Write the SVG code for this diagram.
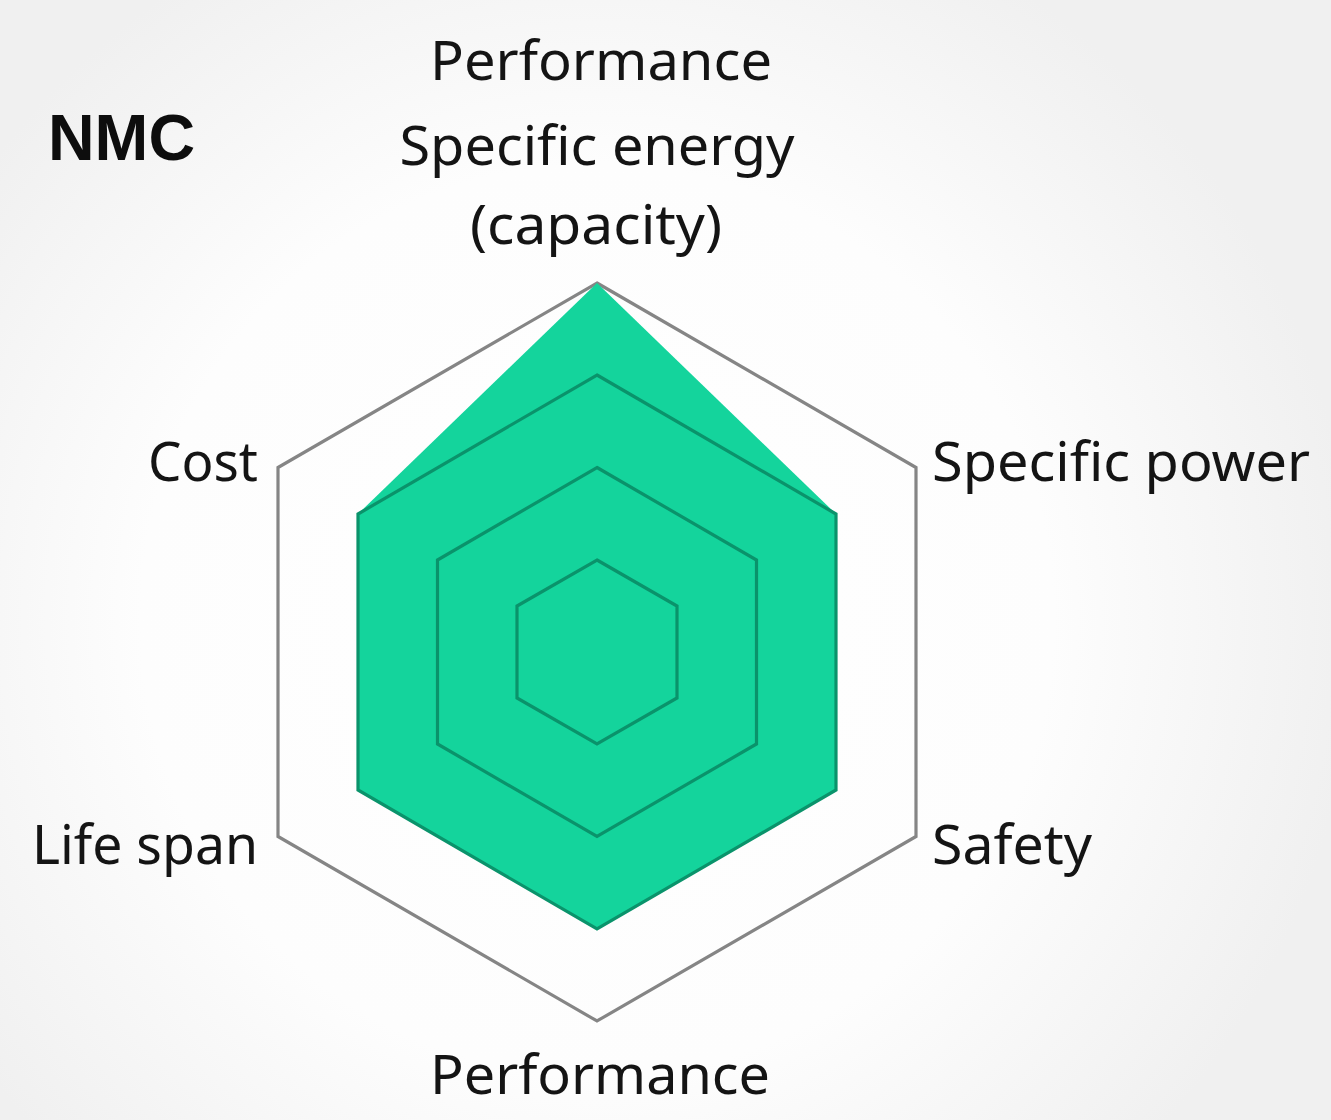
<svg xmlns="http://www.w3.org/2000/svg" width="1331" height="1120" viewBox="0 0 1331 1120">
<defs>
<radialGradient id="bg" cx="597" cy="620" r="760" gradientUnits="userSpaceOnUse">
<stop offset="0" stop-color="#ffffff"/>
<stop offset="0.6" stop-color="#fdfdfd"/>
<stop offset="1" stop-color="#f0f0f0"/>
</radialGradient>
<style>
.lbl{font-family:"Noto Sans","Open Sans",sans-serif;font-size:54px;fill:#141414}
.ttl{font-family:"Liberation Sans",Arial,sans-serif;font-size:64px;font-weight:bold;fill:#0d0d0d}
.outer{fill:none;stroke:#858585;stroke-width:3.2;stroke-linejoin:miter}
.ring{fill:none;stroke:#0a936b;stroke-width:3.2}
.area{fill:#14d49c}
</style>
</defs>
<rect x="0" y="0" width="1331" height="1120" fill="url(#bg)"/>
<g id="chart">
<polygon id="outer-hexagon" class="outer" points="597,283 916,467.5 916,836.5 597,1021 278,836.5 278,467.5"/>
<polygon id="data-area" class="area" points="597,283 836,514 836,790 597,929 358,790 358,514"/>
<polygon id="ring-3" class="ring" points="597,375 836,514 836,790 597,929 358,790 358,514"/>
<polygon id="ring-2" class="ring" points="597,467.5 756.5,560 756.5,744 597,836.5 437.5,744 437.5,560"/>
<polygon id="ring-1" class="ring" points="597,560 677,606 677,698 597,744 517,698 517,606"/>
</g>
<g id="connectors"/>
<g id="title"><text class="ttl" x="48" y="160" textLength="147" lengthAdjust="spacingAndGlyphs">NMC</text></g>
<g id="label-top">
<text class="lbl" x="601" y="80" text-anchor="middle" textLength="342" lengthAdjust="spacingAndGlyphs">Performance</text>
<text class="lbl" x="597" y="165" text-anchor="middle" textLength="395" lengthAdjust="spacingAndGlyphs">Specific energy</text>
<text class="lbl" x="596" y="244" text-anchor="middle" textLength="252" lengthAdjust="spacingAndGlyphs">(capacity)</text>
</g>
<g id="label-cost"><text class="lbl" x="258" y="481" text-anchor="end" textLength="110" lengthAdjust="spacingAndGlyphs">Cost</text></g>
<g id="label-power"><text class="lbl" x="932" y="481" textLength="378" lengthAdjust="spacingAndGlyphs">Specific power</text></g>
<g id="label-safety"><text class="lbl" x="932" y="864" textLength="160" lengthAdjust="spacingAndGlyphs">Safety</text></g>
<g id="label-life"><text class="lbl" x="258" y="864" text-anchor="end" textLength="226" lengthAdjust="spacingAndGlyphs">Life span</text></g>
<g id="label-bottom"><text class="lbl" x="600" y="1094" text-anchor="middle" textLength="340" lengthAdjust="spacingAndGlyphs">Performance</text></g>
</svg>
